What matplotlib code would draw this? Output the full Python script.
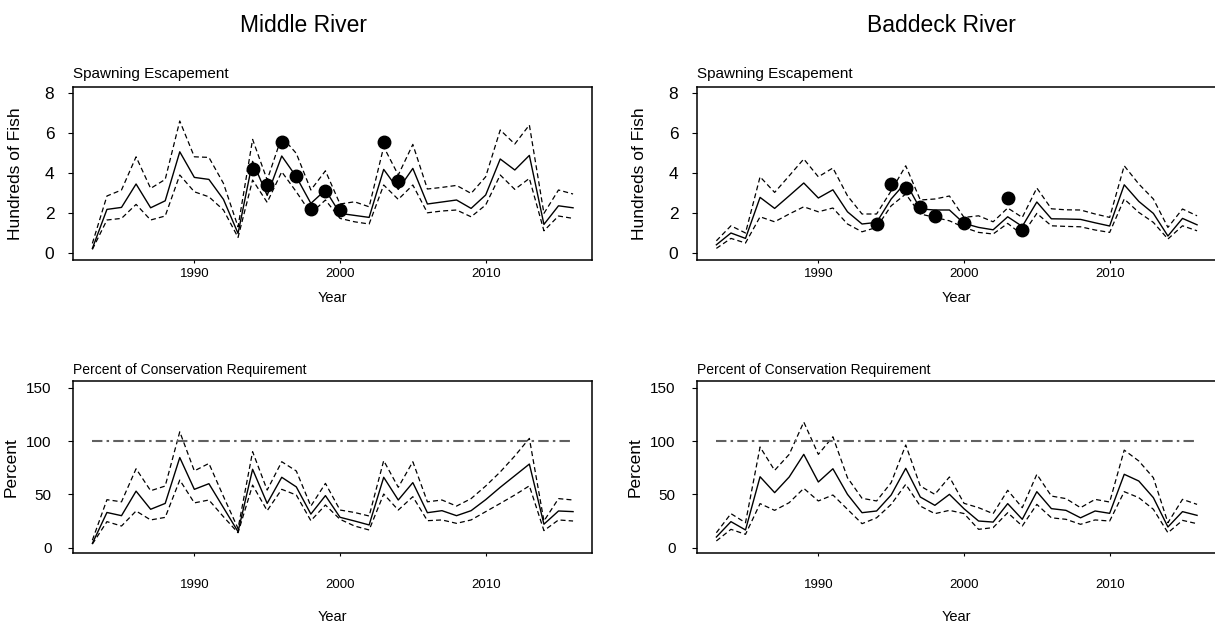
import matplotlib
matplotlib.use("Agg")
import matplotlib.pyplot as plt

# ---- data ----
years = list(range(1983, 2017))

mid_esc = [0.25, 2.2, 2.3, 3.47, 2.28, 2.63, 5.08, 3.8, 3.7, 2.7,
           1.0, 4.6, 2.9, 4.87, 3.83, 2.5, 3.17, 2.0, 1.9, 1.8,
           4.2, 3.2, 4.25, 2.47, 2.57, 2.67, 2.25, 2.92, 4.72, 4.17,
           4.9, 1.45, 2.38, 2.28]
mid_esc_hi = [0.5, 2.87, 3.17, 4.83, 3.25, 3.7, 6.62, 4.83, 4.8, 3.5,
              1.33, 5.7, 3.67, 5.83, 5.0, 3.17, 4.13, 2.47, 2.58, 2.33,
              5.33, 3.92, 5.45, 3.22, 3.3, 3.4, 3.0, 3.83, 6.17, 5.47,
              6.42, 2.0, 3.17, 2.97]
mid_esc_lo = [0.2, 1.67, 1.75, 2.45, 1.67, 1.87, 3.92, 3.08, 2.83, 2.17,
              0.8, 3.67, 2.55, 4.08, 3.08, 2.0, 2.67, 1.75, 1.58, 1.47,
              3.42, 2.7, 3.42, 2.03, 2.12, 2.17, 1.83, 2.42, 3.92, 3.2,
              3.75, 1.13, 1.87, 1.75]
mid_obs_years = [1994, 1995, 1996, 1997, 1998, 1999, 2000, 2003, 2004]
mid_obs = [4.2, 3.42, 5.58, 3.88, 2.2, 3.13, 2.17, 5.58, 3.62]

mid_pct = [4, 33, 30, 53, 36, 41.5, 84.5, 54.7, 60, 37.5,
           15, 73.5, 41.5, 66, 57, 31.5, 48.8, 28.5, 25, 21.3,
           66, 44.7, 61, 32.8, 34.7, 30, 34.7, 45, 56.6, 67.5,
           78.4, 22, 34.4, 33.8]
mid_pct_hi = [7, 45, 43, 74, 53.4, 57.8, 108.7, 72, 79, 48,
              18, 90, 54, 80.6, 71.9, 39, 60.3, 35.3, 33, 29.7,
              81.6, 56.6, 80.6, 43, 44.7, 39, 46, 57.8, 71, 86,
              102.5, 25, 46, 44.7]
mid_pct_lo = [3.4, 24.4, 20.3, 34.4, 26, 28.4, 63.4, 42, 44.7, 29,
              14, 58.7, 34.7, 54.7, 49.4, 25.3, 40, 26.6, 20.3, 16.6,
              50.3, 35.3, 47.8, 25.3, 26, 22.8, 26, 33.75, 41.5, 49.4,
              58, 16, 26, 25]

bad_esc = [0.43, 1.02, 0.75, 2.8, 2.25, 2.88, 3.52, 2.77, 3.18, 2.08,
           1.47, 1.55, 2.72, 3.55, 2.22, 2.17, 2.17, 1.5, 1.3, 1.18,
           1.83, 1.35, 2.57, 1.73, 1.72, 1.7, 1.53, 1.37, 3.43, 2.6,
           2.0, 0.87, 1.75, 1.43]
bad_esc_hi = [0.63, 1.38, 1.02, 3.83, 3.05, 3.88, 4.72, 3.83, 4.27, 2.88,
              1.97, 1.97, 3.13, 4.38, 2.67, 2.72, 2.87, 1.8, 1.88, 1.58,
              2.27, 1.8, 3.27, 2.23, 2.18, 2.17, 1.97, 1.8, 4.38, 3.47,
              2.72, 1.3, 2.22, 1.88]
bad_esc_lo = [0.25, 0.75, 0.52, 1.83, 1.58, 1.97, 2.33, 2.08, 2.27, 1.47,
              1.08, 1.3, 2.38, 2.97, 1.97, 1.8, 1.63, 1.3, 1.05, 0.97,
              1.5, 0.93, 2.0, 1.38, 1.35, 1.33, 1.17, 1.05, 2.72, 2.05,
              1.55, 0.72, 1.38, 1.13]
bad_obs_years = [1994, 1995, 1996, 1997, 1998, 2000, 2003, 2004]
bad_obs = [1.47, 3.47, 3.27, 2.33, 1.87, 1.5, 2.75, 1.17]

bad_pct = [10, 24.4, 16.6, 66.5, 51.6, 66.3, 87.5, 61.6, 74, 50,
           32.8, 34.4, 49.4, 74.4, 47.5, 39.7, 50, 36.5, 25, 24,
           41.3, 26.6, 52.5, 36.6, 35, 28, 34.4, 32.2, 68.8, 62.5,
           46.9, 19.4, 33.8, 30.3]
bad_pct_hi = [14, 31.9, 23.4, 94.4, 72.5, 87.5, 117.8, 87.5, 104, 65.6,
              46.3, 43.8, 61, 96.3, 57.8, 50, 66.3, 41.6, 37.5, 31.9,
              53.8, 37.5, 68.8, 48.4, 46, 37.5, 45.3, 42.8, 91.5, 81.3,
              65.6, 23.4, 45.3, 40.6]
bad_pct_lo = [6.3, 17.2, 12.5, 41.3, 35, 42.2, 55.6, 43.8, 49.4, 36,
              22.5, 28, 40.6, 59.4, 39, 31.9, 35, 32, 17.2, 18.8,
              32.8, 20.3, 40.6, 28, 26.6, 21.9, 26, 25, 52.5, 46.9,
              36, 14, 25.6, 22.5]

conservation = 100
river_names = ["Middle River", "Baddeck River"]

narrow = ["Liberation Sans Narrow", "Liberation Sans", "DejaVu Sans"]
plain = ["Liberation Sans", "DejaVu Sans"]

W, H = 1215, 627
fig = plt.figure(figsize=(W / 100, H / 100), dpi=100)


def rect(left, top, right, bottom):
    return [left / W, 1 - bottom / H, (right - left) / W, (bottom - top) / H]


def style_axes(ax, ylim, yticks, ylab, ypad, ysize, xpad, xlabpad, labx):
    ax.set_xlim(1981.67, 2017.3)
    ax.set_ylim(*ylim)
    ax.set_xticks([1990, 2000, 2010])
    ax.set_yticks(yticks)
    for s in ax.spines.values():
        s.set_linewidth(1.1)
    ax.tick_params(axis="x", length=2.5, width=0.8, pad=xpad)
    ax.tick_params(axis="y", length=3.5, width=0.8, pad=ypad)
    for t in ax.get_xticklabels():
        t.set_fontfamily(narrow)
        t.set_fontsize(9.5)
    for t in ax.get_yticklabels():
        t.set_fontfamily(narrow)
        t.set_fontsize(ysize)
    ax.set_xlabel("Year", family=narrow, fontsize=10.5, labelpad=xlabpad)
    ax.set_ylabel(ylab, family=plain, fontsize=12.5)
    ax.yaxis.set_label_coords(labx, 0.5)


def draw_band(ax, mid, hi, lo):
    ax.plot(years, mid, color="black", lw=1.0)
    ax.plot(years, hi, color="black", lw=0.9, ls=(0, (4, 2.5)))
    ax.plot(years, lo, color="black", lw=0.9, ls=(0, (4, 2.5)))


esc_sets = [(mid_esc, mid_esc_hi, mid_esc_lo, mid_obs_years, mid_obs),
            (bad_esc, bad_esc_hi, bad_esc_lo, bad_obs_years, bad_obs)]
pct_sets = [(mid_pct, mid_pct_hi, mid_pct_lo),
            (bad_pct, bad_pct_hi, bad_pct_lo)]
lefts = [73, 697]

for i in range(2):
    left = lefts[i]
    # spawning escapement
    ax = fig.add_axes(rect(left, 87, left + 519, 260))
    mid, hi, lo, oy, ov = esc_sets[i]
    draw_band(ax, mid, hi, lo)
    ax.plot(oy, ov, "o", color="black", ms=9, zorder=5)
    style_axes(ax, (-0.33, 8.32), [0, 2, 4, 6, 8], "Hundreds of Fish",
               10, 12.5, 3, 8, -0.096)
    ax.annotate("Spawning Escapement", xy=(0, 1), xycoords="axes fraction",
                xytext=(0, 4.5), textcoords="offset points",
                ha="left", va="bottom", family=narrow, fontsize=11)

    # percent of conservation requirement
    ax2 = fig.add_axes(rect(left, 381, left + 519, 553))
    mid, hi, lo = pct_sets[i]
    draw_band(ax2, mid, hi, lo)
    ax2.plot([years[0], years[-1]], [conservation, conservation],
             color="#606060", lw=1.5, dashes=(5, 2, 1.2, 2))
    style_axes(ax2, (-5, 156.3), [0, 50, 100, 150], "Percent",
               12, 11, 16, 14, -0.104)
    ax2.annotate("Percent of Conservation Requirement", xy=(0, 1),
                 xycoords="axes fraction", xytext=(0, 3),
                 textcoords="offset points", ha="left", va="bottom",
                 family=narrow, fontsize=10)

fig.text(303 / W, 1 - 25 / H, river_names[0], ha="center", va="center",
         family=narrow, fontsize=16.5)
fig.text(941 / W, 1 - 25 / H, river_names[1], ha="center", va="center",
         family=narrow, fontsize=16.5)

fig.savefig("out.png", dpi=100)
